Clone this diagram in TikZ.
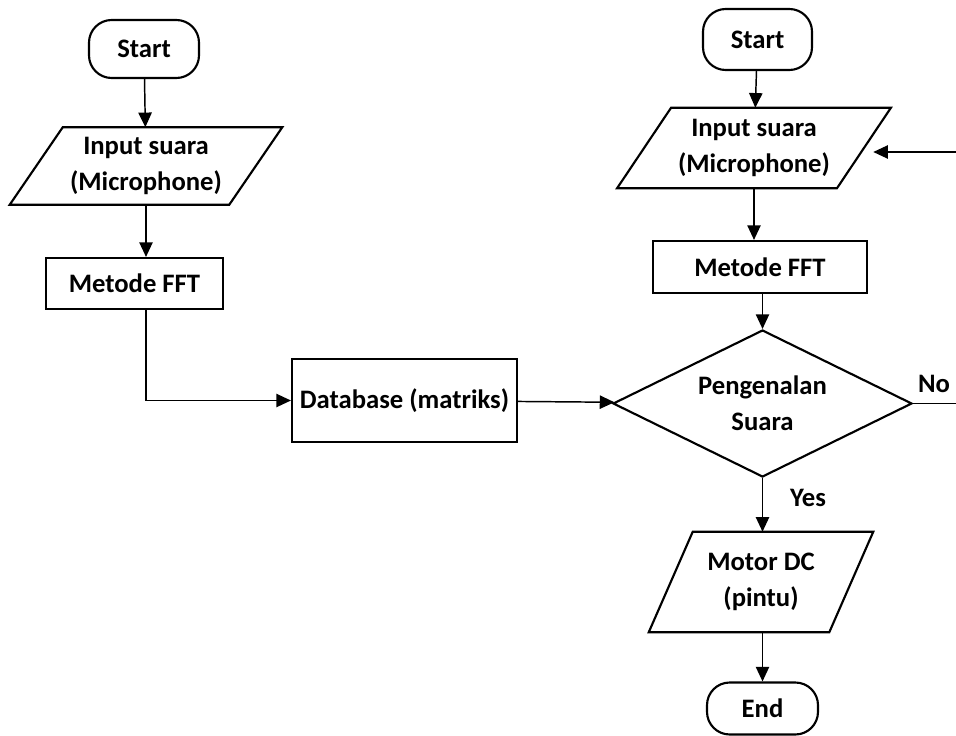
\documentclass[tikz,border=0pt]{standalone}
\usepackage{fontspec}
\setmainfont{Carlito}
\usepackage{tikz}
\usetikzlibrary{shapes.geometric, arrows.meta}

\begin{document}
\begin{tikzpicture}[x=0.75pt,y=0.75pt,yscale=-1,xscale=1,
  every node/.style={font=\fontsize{20}{27}\selectfont\bfseries, align=center, inner sep=0pt},
  shapeline/.style={line width=1.6pt, line join=miter},
  terminal/.style={draw, shapeline, rectangle, rounded corners=17pt},
  proc/.style={draw, shapeline, rectangle},
  io/.style={rectangle},
  decision/.style={draw, shapeline, diamond, aspect=2.03},
  arrow/.style={line width=1.1pt, -{Triangle[length=11pt,width=10pt]}}
]
\useasboundingbox (0,0) rectangle (956,735);

% left flow
\node [terminal, minimum width=82.5pt, minimum height=43.5pt] (start1) at (144,49) {Start};
\node [io, minimum width=164.25pt, minimum height=57.75pt] (in1) at (146,166) {Input suara\\(Microphone)};
\draw [shapeline] ([xshift=19.9pt]in1.north west) -- ([xshift=19.9pt]in1.north east) -- ([xshift=-19.9pt]in1.south east) -- ([xshift=-19.9pt]in1.south west) -- cycle;
\node [proc, minimum width=132.75pt, minimum height=38.25pt] (fft1) at (134.5,283.5) {Metode FFT};
\node [proc, minimum width=168.75pt, minimum height=62.25pt] (db) at (404.5,400.5) {Database (matriks)};

% right flow
\node [terminal, minimum width=81.75pt, minimum height=45.75pt] (start2) at (757.5,39.5) {Start};
\node [io, minimum width=164.5pt, minimum height=60pt] (in2) at (754,148) {Input suara\\(Microphone)};
\draw [shapeline] ([xshift=20.25pt]in2.north west) -- ([xshift=20.25pt]in2.north east) -- ([xshift=-20.25pt]in2.south east) -- ([xshift=-20.25pt]in2.south west) -- cycle;
\node [proc, minimum width=160.5pt, minimum height=39pt] (fft2) at (760,267) {Metode FFT};
\node [decision, minimum width=224.25pt, minimum height=110.25pt] (dec) at (762.5,403.5) {Pengenalan\\Suara};
\node [io, minimum width=135pt, minimum height=75pt] (motor) at (761,582) {Motor DC\\(pintu)};
\draw [shapeline] ([xshift=16.5pt]motor.north west) -- ([xshift=16.5pt]motor.north east) -- ([xshift=-16.5pt]motor.south east) -- ([xshift=-16.5pt]motor.south west) -- cycle;
\node [terminal, minimum width=83.25pt, minimum height=39pt] (end) at (762.5,708.5) {End};

% labels
\node (nolbl) at (934,384) {No};
\node (yeslbl) at (808,498) {Yes};

% loose ends
\coordinate (noend) at (956,403.5);
\coordinate (back) at (956,152);

% connectors
\draw [arrow] (start1) -- (in1);
\draw [arrow] (in1.south) -- (in1.south |- fft1.north);
\draw [arrow] (fft1.south -| in1.south) |- (db.west);
\draw [arrow] (db) -- (dec);
\draw [arrow] (start2) -- (in2);
\draw [arrow] (in2.south) -- (in2.south |- fft2.north);
\draw [arrow] (fft2.south -| dec.north) -- (dec.north);
\draw [arrow] (dec.south) -- (motor.north -| dec.south);
\draw [arrow] (motor.south -| end.north) -- (end.north);
\draw [line width=1.1pt] (dec.east) -- (noend);
\draw [arrow, shorten >=7pt] (back) -- (back -| in2.east);

\end{tikzpicture}
\end{document}
